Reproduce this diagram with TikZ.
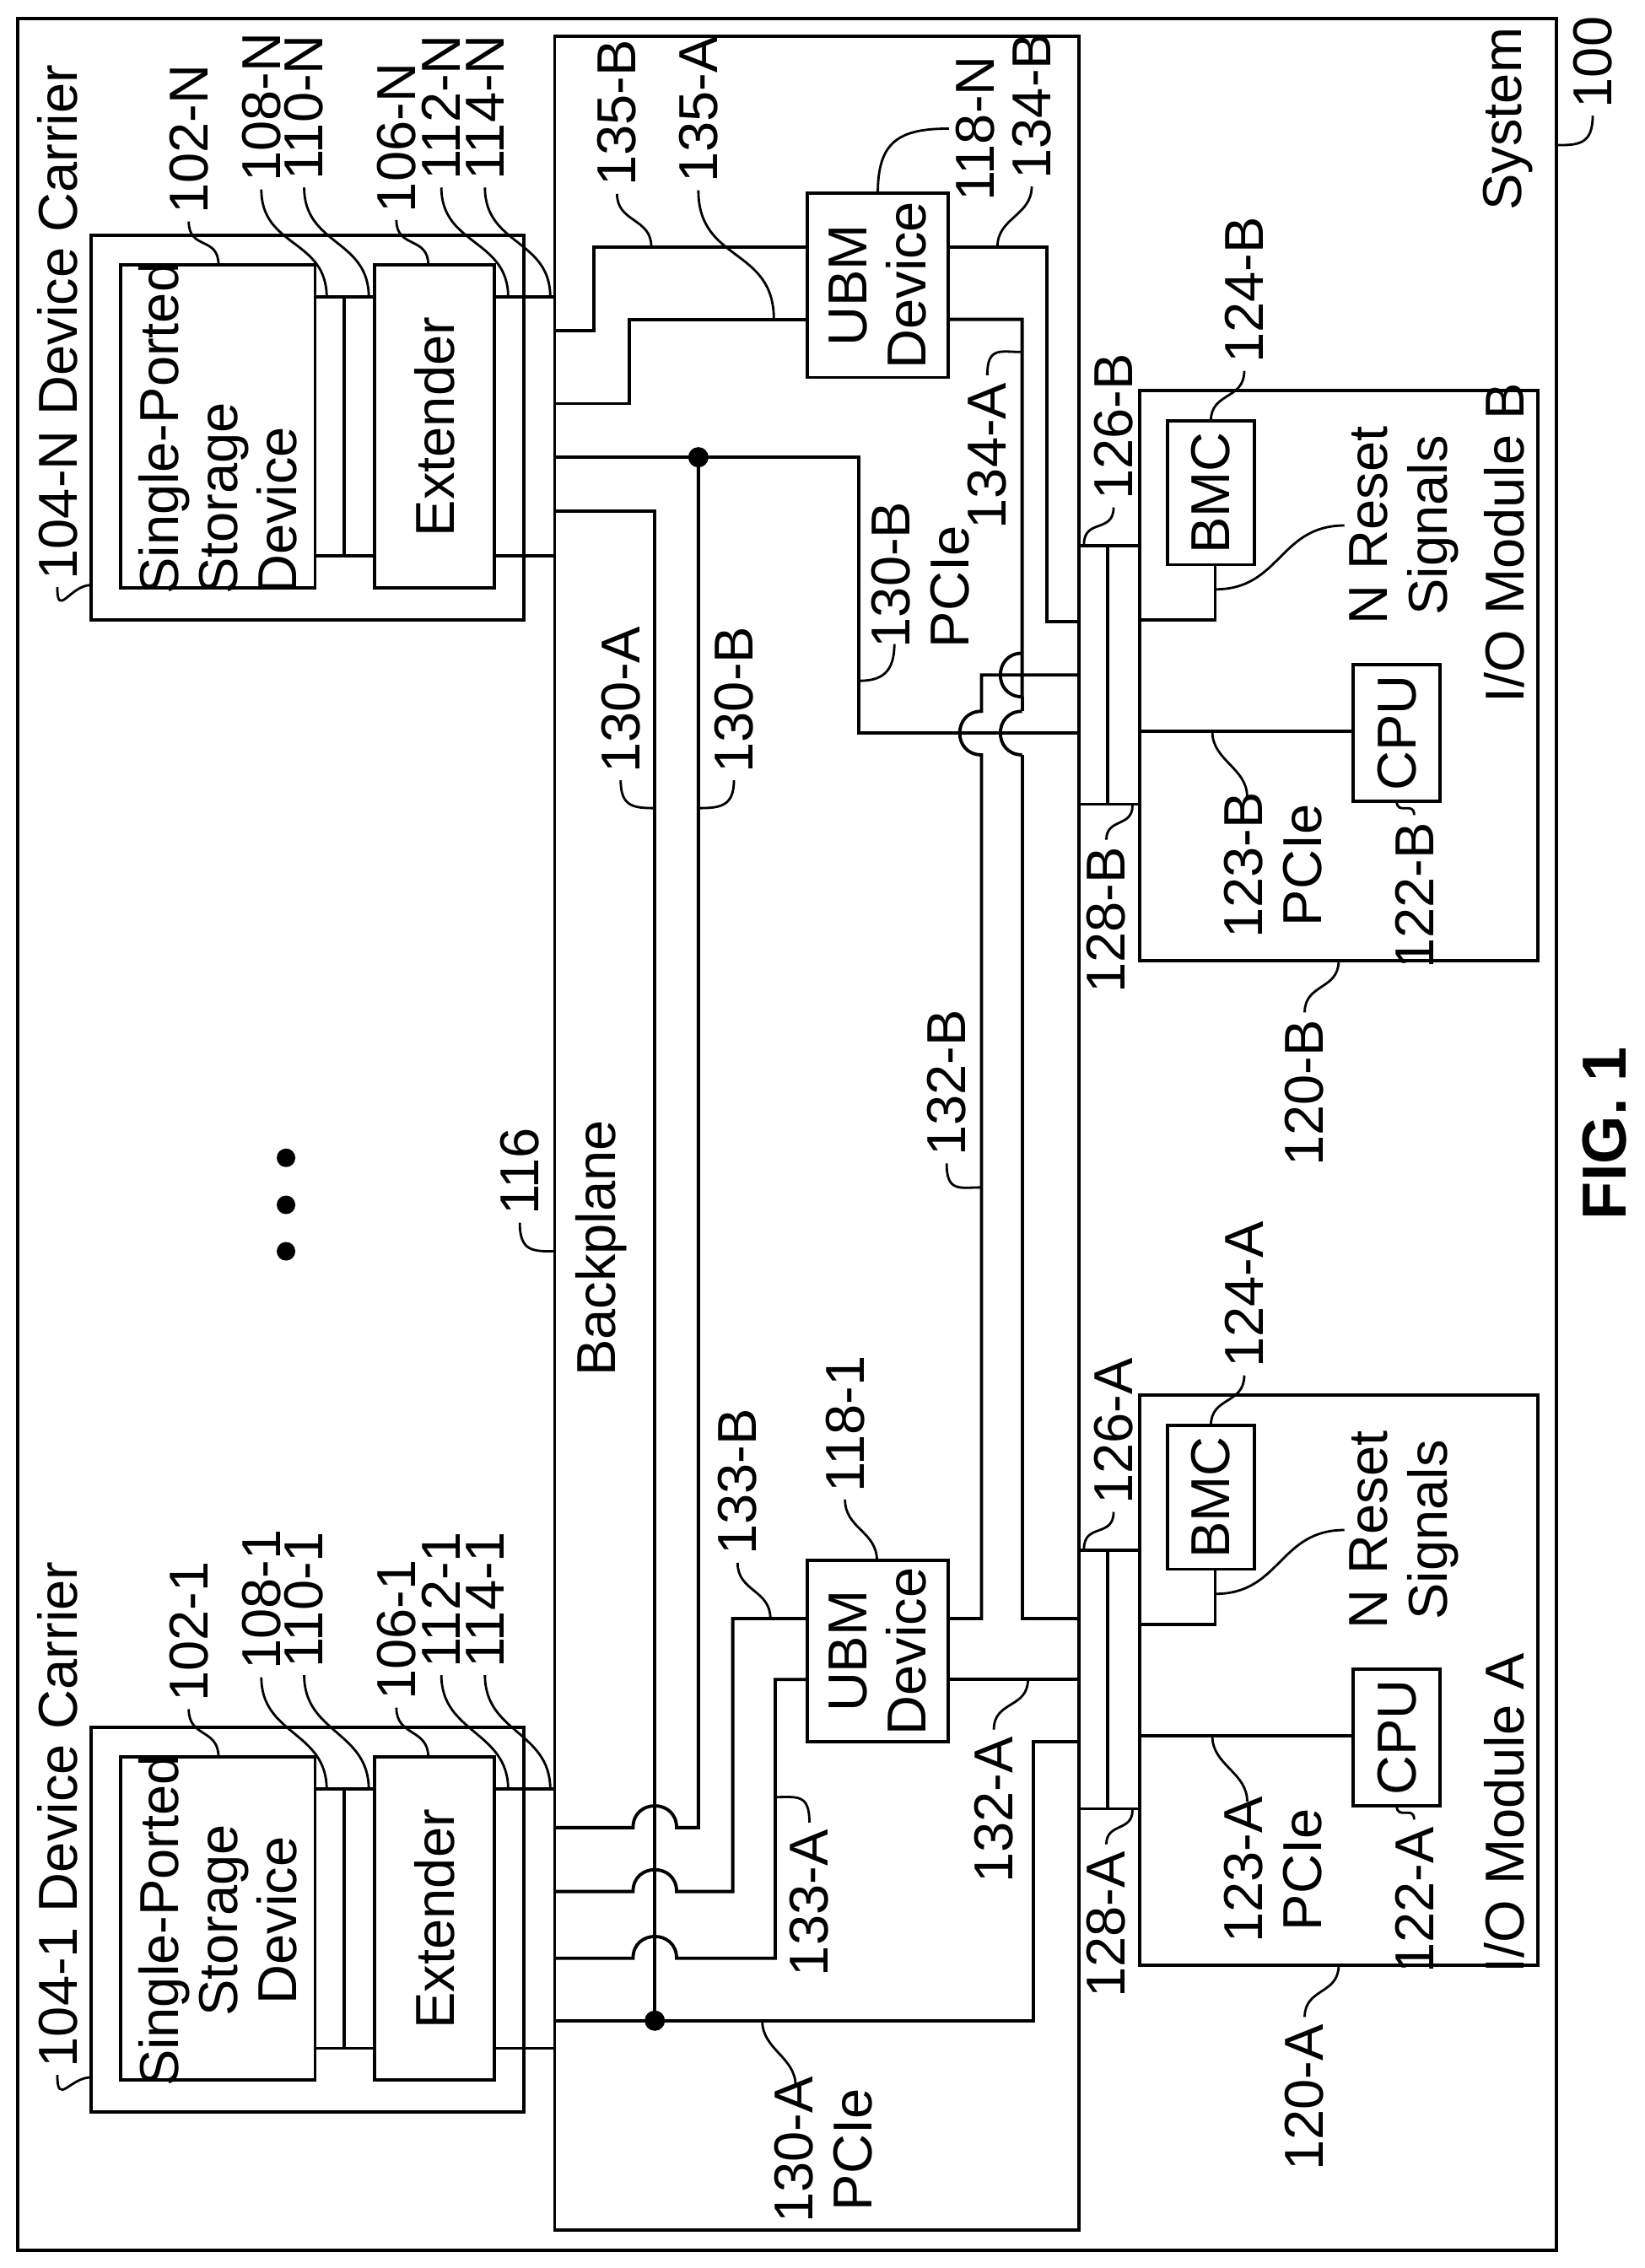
\documentclass[tikz,border=0pt]{standalone}
\usepackage{fontspec}
\setmainfont{Liberation Sans}
\usetikzlibrary{fit}
\newcommand\ldr[3]{\draw[lead] (#1) .. controls +(0,#3) and +(0,-#3) .. (#2);}
\begin{document}
\begin{tikzpicture}[x=0.017211cm,y=-0.017211cm,
 wire/.style={line width=1.1pt},
 box/.style={draw,line width=1.1pt,inner sep=0pt},
 lead/.style={line width=0.8pt},
 lbl/.style={rotate=90,inner sep=0pt,outer sep=2.5pt,font=\fontsize{18.5}{20}\selectfont,align=center},
 dot/.style={circle,fill,inner sep=0pt,minimum size=0.24cm}]
\useasboundingbox (0,0) rectangle (1133,1562.4);
% system
\node[box,fit={(12,13)(1072,1550)}] (sys) {};
\node[lbl] (lsys) at (1038.6,82) {System};
\node[lbl] (l100) at (1097,43) {100};
\draw[lead] (l100.west) .. controls +(0,20) and +(15,0) .. (1072,100);
% carriers
\foreach \s/\o/\al in {N/0/left,1/1028/center}{
\begin{scope}[shift={(0,\o)}]
 \node[box,fit={(63,162)(361,427)}] (car\s) {};
 \node[box,fit={(83,182.5)(217,405)}] (sto\s) {};
 \node[box,fit={(258,182.5)(340.5,405)}] (ext\s) {};
 \node[lbl,align=\al] (tsto\s) at (150,295) {Single-Ported\\Storage\\Device};
 \node[lbl] (text\s) at (299.5,294) {Extender};
 \draw[wire] (217,204.6)--(258,204.6) (217,383)--(258,383) (237,204.6)--(237,383)
   (340.5,204.6)--(382,204.6) (340.5,383)--(382,383);
 \node[lbl] (l104\s) at (39.5,222) {104-\s\ Device Carrier};
 \draw[lead] (l104\s.west) .. controls +(0,22) and +(-15,0) .. (63,403);
 \node[lbl] (l102\s) at (130,96) {102-\s};
 \ldr{l102\s.west}{150.5,182.5}{20}
 \node[lbl] (l108\s) at (180,74) {108-\s};
 \ldr{l108\s.west}{225,204.6}{40}
 \node[lbl] (l110\s) at (209.5,74) {110-\s};
 \ldr{l110\s.west}{254,204.6}{40}
 \node[lbl] (l106\s) at (273,95) {106-\s};
 \ldr{l106\s.west}{295,182.5}{20}
 \node[lbl] (l112\s) at (304,74) {112-\s};
 \ldr{l112\s.west}{350,204.6}{40}
 \node[lbl] (l114\s) at (334,74) {114-\s};
 \ldr{l114\s.west}{379,204.6}{40}
\end{scope}}
% ellipsis
\node[dot,minimum size=0.22cm] (e1) at (197,797.6) {};
\node[dot,minimum size=0.22cm] (e2) at (197,830) {};
\node[dot,minimum size=0.22cm] (e3) at (197,862) {};
% backplane
\node[box,fit={(382,25)(743,1536)}] (bp) {};
\node[lbl] (lbp) at (414,860) {Backplane};
\node[lbl] (l116) at (358,807) {116};
\draw[lead] (l116.west) .. controls +(0,20) and +(-15,0) .. (382,862);
% UBM devices
\node[box,fit={(556,133)(653,260)}] (ubmN) {};
\node[lbl] (tubmN) at (ubmN) {UBM\\Device};
\node[box,fit={(556,1075)(653,1200)}] (ubm1) {};
\node[lbl] (tubm1) at (ubm1) {UBM\\Device};
% wires top
\draw[wire] (382,228)--(409,228)--(409,170)--(556,170);
\draw[wire] (382,278)--(433.5,278)--(433.5,220)--(556,220);
\draw[wire] (653,170)--(721,170)--(721,428)--(743,428);
\draw[wire] (382,315)--(591.7,315)--(591.7,505)--(743,505);
\draw[wire] (382,352)--(451,352)--(451,1392);
\node[dot] (j1) at (481,315) {};
\draw[wire] (481,315)--(481,1259)--(466,1259) .. controls (466,1239) and (436,1239) .. (436,1259)--(382,1259);
\draw[wire] (382,1303)--(436,1303) .. controls (436,1283) and (466,1283) .. (466,1303)--(504.7,1303)--(504.7,1115)--(556,1115);
\draw[wire] (382,1349)--(436,1349) .. controls (436,1329) and (466,1329) .. (466,1349)--(534,1349)--(534,1157)--(556,1157);
\draw[wire] (382,1392)--(712,1392)--(712,1200)--(743,1200);
\node[dot] (j2) at (451,1392) {};
\draw[wire] (653,1157)--(743,1157);
\draw[wire] (653,1115)--(676,1115)--(676,520) .. controls (656,520) and (656,490) .. (676,490)--(676,465)--(743,465);
\draw[wire] (653,220)--(704,220)--(704,480) .. controls (684,480) and (684,450) .. (704,450);
\draw[wire] (704,480)--(704,490);
\draw[wire] (704,520) .. controls (684,520) and (684,490) .. (704,490);
\draw[wire] (704,520)--(704,1115)--(743,1115);
% backplane labels
\node[lbl] (l135B) at (425,78) {135-B};
\ldr{l135B.west}{448.6,170}{20}
\node[lbl] (l135A) at (481,75.6) {135-A};
\ldr{l135A.west}{533,220}{50}
\node[lbl] (l118N) at (672,88.6) {118-N};
\draw[lead] (l118N.north) .. controls +(-35,0) and +(0,-35) .. (604.6,133);
\node[lbl] (l134B) at (710.6,73) {134-B};
\ldr{l134B.west}{687,170}{20}
\node[lbl] (l134A) at (680,314) {134-A};
\draw[lead] (l134A.east) .. controls +(0,-20) and +(-15,0) .. (704,242.5);
\node[lbl,align=left] (l130BP) at (634,396) {130-B\\PCIe};
\draw[lead] (616,443.7) .. controls +(0,20) and +(15,0) .. (591.7,469);
\node[lbl] (l130Av) at (427.5,482) {130-A};
\draw[lead] (l130Av.west) .. controls +(0,18) and +(-15,0) .. (451,556.7);
\node[lbl] (l130Bv) at (505.5,482) {130-B};
\draw[lead] (l130Bv.west) .. controls +(0,18) and +(15,0) .. (481,556.7);
\node[lbl] (l132B) at (652,746) {132-B};
\draw[lead] (l132B.west) .. controls +(0,20) and +(-15,0) .. (676,818);
\node[lbl] (l133B) at (508,1021) {133-B};
\ldr{l133B.west}{530.6,1115}{20}
\node[lbl] (l1181) at (582,981) {118-1};
\ldr{l1181.west}{604,1075}{20}
\node[lbl] (l133A) at (557.5,1311) {133-A};
\draw[lead] (l133A.east) .. controls +(0,-20) and +(15,0) .. (534,1238);
\node[lbl] (l132A) at (684.5,1247) {132-A};
\ldr{l132A.east}{708,1157}{-20}
\node[lbl] (l130AP) at (567,1481) {130-A\\PCIe};
\ldr{548,1437}{525,1392}{-20}
% I/O modules
\foreach \s/\o/\my in {B/0/374,A/692/557}{
\begin{scope}[shift={(0,\o)}]
 \node[box,fit={(785,269)(1059,662)}] (mod\s) {};
 \node[box,fit={(804,290)(864,389)}] (bmc\s) {};
 \node[lbl] (tbmc\s) at (bmc\s) {BMC};
 \node[box,fit={(932,458)(992,552)}] (cpu\s) {};
 \node[lbl] (tcpu\s) at (cpu\s) {CPU};
 \draw[wire] (743,376)--(785,376) (743,554)--(785,554) (763,376)--(763,554);
 \draw[wire] (785,427)--(837,427)--(837,389);
 \draw[wire] (785,504)--(932,504);
 \node[lbl] (l124\s) at (857,200) {124-\s};
 \ldr{l124\s.west}{834,290}{20}
 \node[lbl] (lrst\s) at (967,362) {N Reset\\Signals};
 \draw[lead] (837,406) .. controls +(45,0) and +(-45,0) .. (926,362);
 \node[lbl] (lmod\s) at (1036,\my) {I/O Module \s};
 \node[lbl] (l123\s) at (877,596) {123-\s\\PCIe};
 \ldr{835,504}{859,549}{20}
 \node[lbl] (l122\s) at (974,617) {122-\s};
 \ldr{962,552}{l122\s.east}{10}
 \node[lbl] (l126\s) at (767,294) {126-\s};
 \ldr{l126\s.west}{746.6,375}{18}
 \node[lbl] (l128\s) at (762,634) {128-\s};
 \ldr{780,555}{l128\s.east}{15}
 \node[lbl] (l120\s) at (898.6,753) {120-\s};
 \ldr{922,662}{l120\s.east}{20}
\end{scope}}
\node[lbl,font=\bfseries\fontsize{21}{24}\selectfont] (fig) at (1105,780.6) {FIG. 1};
\end{tikzpicture}
\end{document}
